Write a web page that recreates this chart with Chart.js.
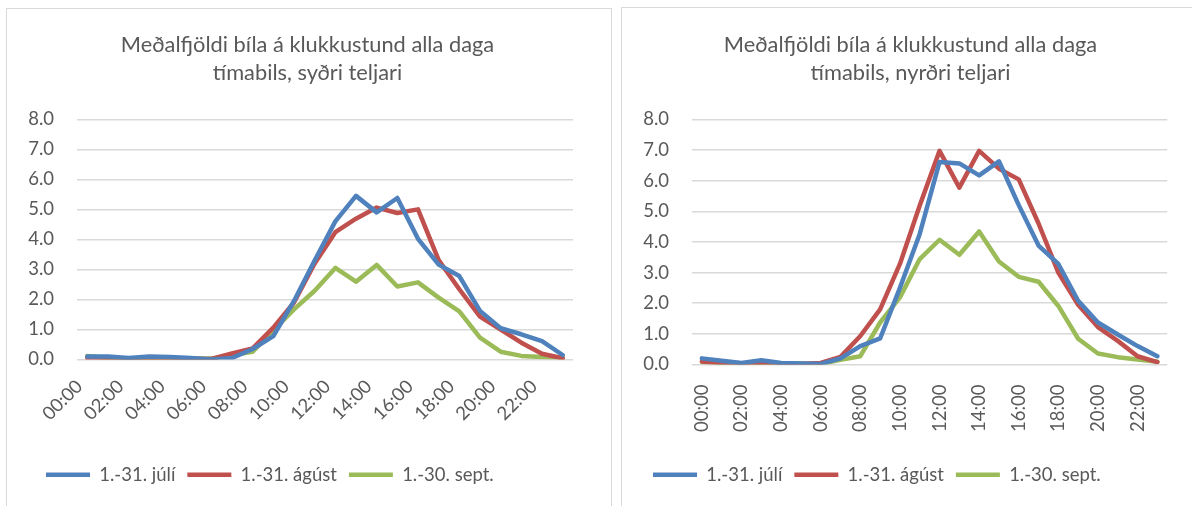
<!DOCTYPE html>
<html>
<head>
<meta charset="utf-8">
<script src="https://cdn.jsdelivr.net/npm/chart.js@4.4.1/dist/chart.umd.min.js"></script>
<style>
    body { margin: 0; background: #fff; width: 1192px; height: 506px; overflow: hidden; position: relative; }
    .frame { position: absolute; border: 1.5px solid #d9d9d9; box-sizing: border-box; }
    #frameA { left: 6px; top: 8px; width: 606px; height: 520px; }
    #frameB { left: 621px; top: 7px; width: 600px; height: 520px; }
    .box { position: absolute; top: 0; height: 506px; }
    #boxA { left: 0; width: 611px; }
    #boxB { left: 616px; width: 576px; }
</style>
</head>
<body>
<div class="frame" id="frameA"></div>
<div class="frame" id="frameB"></div>
<div class="box" id="boxA"><canvas id="chartA"></canvas></div>
<div class="box" id="boxB"><canvas id="chartB"></canvas></div>
<script>
var hours = ['00:00', '01:00', '02:00', '03:00', '04:00', '05:00', '06:00', '07:00',
    '08:00', '09:00', '10:00', '11:00', '12:00', '13:00', '14:00', '15:00',
    '16:00', '17:00', '18:00', '19:00', '20:00', '21:00', '22:00', '23:00'];
var seriesNames = ['1.-31. júlí', '1.-31. ágúst', '1.-30. sept.'];
var yTicks = [0, 1, 2, 3, 4, 5, 6, 7, 8];

// syðri teljari
var juliSydri = [0.10, 0.10, 0.05, 0.10, 0.08, 0.05, 0.00, 0.05, 0.35, 0.78, 1.95, 3.30, 4.60, 5.45, 4.90, 5.38, 4.02, 3.16, 2.78, 1.62, 1.04, 0.84, 0.61, 0.15];
var agustSydri = [0.05, 0.02, 0.02, 0.02, 0.02, 0.02, 0.02, 0.20, 0.37, 1.06, 1.90, 3.20, 4.24, 4.69, 5.06, 4.88, 5.00, 3.31, 2.34, 1.43, 1.00, 0.56, 0.19, 0.04];
var septSydri = [0.12, 0.05, 0.03, 0.03, 0.03, 0.03, 0.03, 0.15, 0.26, 0.97, 1.67, 2.29, 3.05, 2.59, 3.15, 2.43, 2.57, 2.06, 1.60, 0.73, 0.26, 0.12, 0.08, 0.07];

// nyrðri teljari
var juliNyrdri = [0.20, 0.12, 0.05, 0.14, 0.05, 0.03, 0.02, 0.20, 0.60, 0.85, 2.50, 4.26, 6.61, 6.56, 6.17, 6.63, 5.20, 3.88, 3.28, 2.08, 1.37, 0.98, 0.60, 0.27];
var agustNyrdri = [0.10, 0.05, 0.00, 0.02, 0.02, 0.02, 0.05, 0.25, 0.93, 1.80, 3.28, 5.19, 6.97, 5.77, 6.97, 6.39, 6.04, 4.60, 3.00, 1.95, 1.22, 0.77, 0.27, 0.08];
var septNyrdri = [0.08, 0.06, 0.04, 0.03, 0.03, 0.03, 0.02, 0.15, 0.27, 1.37, 2.19, 3.44, 4.07, 3.58, 4.34, 3.36, 2.86, 2.70, 1.91, 0.84, 0.36, 0.24, 0.16, 0.09];

var colors = ['#4f81bd', '#c0504d', '#9bbb59'];
var textColor = '#595959';
var fontName = 'Lato, "Open Sans", sans-serif';

// nudges title and legend sideways after layout (Excel puts them off-centre)
var boxShift = {
    id: 'boxShift',
    afterLayout: function (chart, args, opts) {
        if (chart.legend) {
            chart.legend.left += opts.legendDx;
            chart.legend.right += opts.legendDx;
        }
        if (chart.titleBlock) {
            chart.titleBlock.left += opts.titleDx;
            chart.titleBlock.right += opts.titleDx;
        }
    }
};

function createChart(canvasId, titleLines, data, cfg) {
    var ctx = document.getElementById(canvasId);
    var datasets = data.map(function (values, i) {
        return {
            label: seriesNames[i],
            data: values,
            borderColor: colors[i],
            backgroundColor: colors[i],
            borderWidth: 4.5,
            borderCapStyle: 'round',
            borderJoinStyle: 'round',
            pointRadius: 0,
            tension: 0
        };
    });

    return new Chart(ctx, {
        type: 'line',
        data: { labels: hours, datasets: datasets },
        plugins: [boxShift],
        options: {
            responsive: true,
            maintainAspectRatio: false,
            animation: false,
            layout: { padding: { left: cfg.padLeft, right: cfg.padRight, top: 0, bottom: 12 } },
            plugins: {
                title: {
                    display: true,
                    text: titleLines,
                    color: textColor,
                    font: { family: fontName, size: 21.8, weight: 'normal', lineHeight: 1.28 },
                    padding: { top: 31, bottom: 32.5 }
                },
                legend: {
                    position: 'bottom',
                    align: 'start',
                    labels: {
                        color: textColor,
                        font: { family: fontName, size: 18.5 },
                        usePointStyle: true,
                        pointStyle: 'line',
                        pointStyleWidth: 44,
                        padding: 12
                    }
                },
                boxShift: { legendDx: cfg.legendDx, titleDx: cfg.titleDx },
                tooltip: { enabled: false }
            },
            scales: {
                x: {
                    offset: true,
                    grid: { display: false },
                    border: { display: false },
                    ticks: {
                        color: textColor,
                        font: { family: fontName, size: 18.5 },
                        autoSkip: false,
                        minRotation: cfg.rotation,
                        maxRotation: cfg.rotation,
                        padding: cfg.xPad,
                        labelOffset: cfg.xOffset,
                        callback: function (value, index) {
                            return index % 2 === 0 ? hours[index] : '';
                        }
                    },
                    afterFit: function (scale) { scale.height = cfg.xHeight; }
                },
                y: {
                    min: yTicks[0],
                    max: yTicks[yTicks.length - 1],
                    grid: { color: '#d9d9d9', lineWidth: 1.5, drawTicks: false },
                    border: { display: false },
                    ticks: {
                        stepSize: 1,
                        color: textColor,
                        font: { family: fontName, size: 18.5 },
                        padding: cfg.yPad,
                        callback: function (value) { return value.toFixed(1); }
                    },
                    afterFit: function (scale) { scale.width = cfg.yWidth; }
                }
            }
        }
    });
}

createChart('chartA', ['Meðalfjöldi bíla á klukkustund alla daga', 'tímabils, syðri teljari'],
    [juliSydri, agustSydri, septSydri],
    { padLeft: 18, padRight: 38, yWidth: 59, yPad: 23, xHeight: 94, xPad: 8, xOffset: -8, rotation: 45, legendDx: 16, titleDx: 12 });

createChart('chartB', ['Meðalfjöldi bíla á klukkustund alla daga', 'tímabils, nyrðri teljari'],
    [juliNyrdri, agustNyrdri, septNyrdri],
    { padLeft: 18, padRight: 21, yWidth: 58, yPad: 23, xHeight: 89, xPad: 12, xOffset: 0, rotation: 90, legendDx: 7, titleDx: 8 });
</script>
</body>
</html>
